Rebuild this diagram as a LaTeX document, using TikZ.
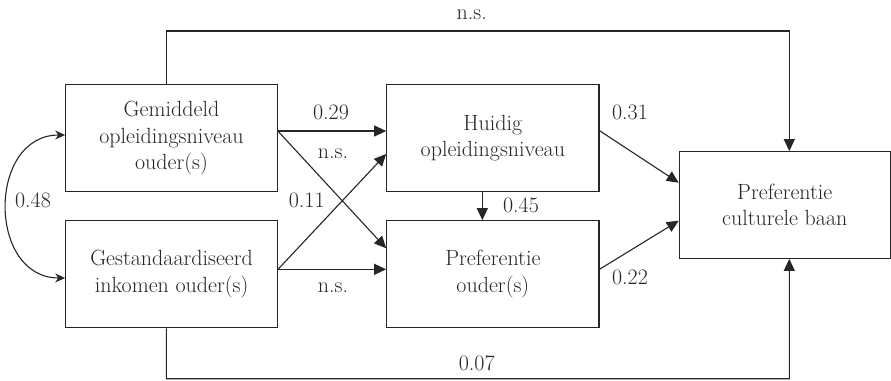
\documentclass[tikz,border=0pt]{standalone}
\usetikzlibrary{arrows.meta}
\begin{document}
\begin{tikzpicture}[x=1pt,y=-1pt,
  ink/.style={draw=black!85, line width=1.1pt},
  box/.style={ink, minimum height=107pt, inner sep=0pt, align=center,
    text=black!85, font=\fontsize{22}{26.5}\selectfont},
  lbl/.style={text=black!85, inner sep=0pt, font=\fontsize{22}{26.5}\selectfont},
  arr/.style={ink, -{Triangle[length=12pt,width=11pt]}},
  curv/.style={ink, {Stealth[length=10pt,width=9pt]}-{Stealth[length=10pt,width=9pt]}},
]
\useasboundingbox (0,0) rectangle (891,380);
% boxes
\node[box, minimum width=211.6pt] (A) at (171.5,138.2) {Gemiddeld\\opleidingsniveau\\ouder(s)};
\node[box, minimum width=211.8pt] (B) at (171.6,274.2) {Gestandaardiseerd\\inkomen ouder(s)};
\node[box, minimum width=212.3pt] (C) at (492.85,138.2) {Huidig\\opleidingsniveau};
\node[box, minimum width=212.3pt] (D) at (492.85,274.2) {Preferentie\\ouder(s)};
\node[box, minimum width=211pt, minimum height=106.6pt] (E) at (784.8,205) {Preferentie\\culturele baan};
% corner coordinates
\coordinate (t1) at (166.3,31);
\coordinate (t2) at (789.3,31);
\coordinate (b1) at (166.3,378.7);
\coordinate (b2) at (789.3,378.7);
% connectors
\draw[arr] ([yshift=7.2pt]A.east) -- ([yshift=7.2pt]C.west);
\draw[arr] ([yshift=7.2pt]A.east) -- ([yshift=25.9pt]D.west);
\draw[arr] ([yshift=4.9pt]B.east) -- ([yshift=-15.8pt]C.west);
\draw[arr] ([yshift=4.9pt]B.east) -- ([yshift=4.9pt]D.west);
\draw[arr] ([xshift=-10.5pt]C.south) -- ([xshift=-10.5pt]D.north);
\draw[arr] ([yshift=7.5pt]C.east) -- ([yshift=22.3pt]E.west);
\draw[arr] ([yshift=4.9pt]D.east) -- ([yshift=-15.7pt]E.west);
\draw[arr] ([xshift=-5.2pt]A.north) -- (t1) -- (t2) -- ([xshift=4.5pt]E.north);
\draw[arr] ([xshift=-5.2pt]B.south) -- (b1) -- (b2) -- ([xshift=4.5pt]E.south);
\draw[curv] ([yshift=3.2pt]A.west) .. controls +(-78,0) and +(-78,0) .. ([yshift=-3.8pt]B.west);
% labels
\node[lbl] (l1) at (471.7,15) {n.s.};
\node[lbl] (l2) at (331,112.7) {0.29};
\node[lbl] (l3) at (333,154) {n.s.};
\node[lbl] (l4) at (306.7,200.7) {0.11};
\node[lbl] (l5) at (333,287.3) {n.s.};
\node[lbl] (l6) at (521,205.7) {0.45};
\node[lbl] (l7) at (630,112.7) {0.31};
\node[lbl] (l8) at (630,277.3) {0.22};
\node[lbl] (l9) at (476.7,363.3) {0.07};
\node[lbl] (l10) at (33,200.5) {0.48};
\end{tikzpicture}
\end{document}
